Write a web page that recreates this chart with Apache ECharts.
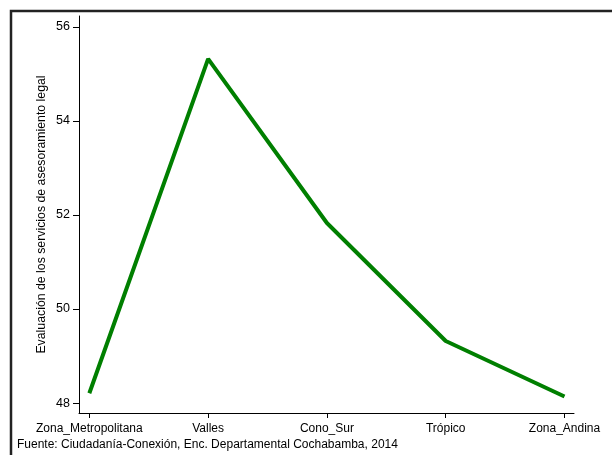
<!DOCTYPE html>
<html><head><meta charset="utf-8">
<script src="https://cdn.jsdelivr.net/npm/echarts@6/dist/echarts.min.js"></script>
<style>html,body{margin:0;padding:0;background:#fff}#c{width:612px;height:455px}</style>
</head><body><div id="c"></div>
<script>
const categories = ["Zona_Metropolitana","Valles","Cono_Sur","Trópico","Zona_Andina"];
const values = [48.21, 55.32, 51.83, 49.32, 48.14];
const yTicks = [48, 50, 52, 54, 56];
const yTitle = "Evaluación de los servicios de asesoramiento legal";
const note = "Fuente: Ciudadanía-Conexión, Enc. Departamental Cochabamba, 2014";

const font = "'Liberation Sans', Arial, sans-serif";
const chart = echarts.init(document.getElementById('c'), null, {renderer:'canvas'});
chart.setOption({
  animation:false,
  backgroundColor:'#fff',
  grid:{left:79, right:38, top:16, bottom:42, containLabel:false},
  xAxis:{
    type:'value', min:-0.087, max:4.08,
    axisLine:{show:true, onZero:false, lineStyle:{color:'#000', width:1}},
    axisTick:{show:true, length:5, lineStyle:{color:'#000'}, customValues:[0,1,2,3,4]},
    axisLabel:{show:true, customValues:[0,1,2,3,4], color:'#000', fontFamily:font, fontSize:12, margin:9.5,
      formatter:v=>categories[Math.round(v)]||''},
    splitLine:{show:false}
  },
  yAxis:{
    type:'value', min:47.79, max:56.23,
    name:yTitle, nameLocation:'middle', nameGap:31, nameRotate:90, nameMoveOverlap:false,
    nameTextStyle:{color:'#000', fontFamily:font, fontSize:12.3},
    axisLine:{show:true, onZero:false, lineStyle:{color:'#000', width:1}},
    axisTick:{show:true, length:6, lineStyle:{color:'#000'}, customValues:yTicks},
    axisLabel:{show:true, customValues:yTicks, color:'#000', fontFamily:font, fontSize:12.5, margin:9},
    splitLine:{show:false}
  },
  series:[{
    type:'line',
    data:values.map((v,i)=>[i,v]),
    symbol:'none',
    lineStyle:{color:'#007f00', width:4},
    itemStyle:{color:'#007f00'}
  }],
  graphic:[
    {type:'rect', shape:{x:11, y:11, width:700, height:600}, style:{fill:'none', stroke:'#222', lineWidth:2.5}},
    {type:'text', left:17, top:439, style:{text:note, fill:'#000', font:"12px 'Liberation Sans', Arial, sans-serif"}}
  ]
});
</script></body></html>
